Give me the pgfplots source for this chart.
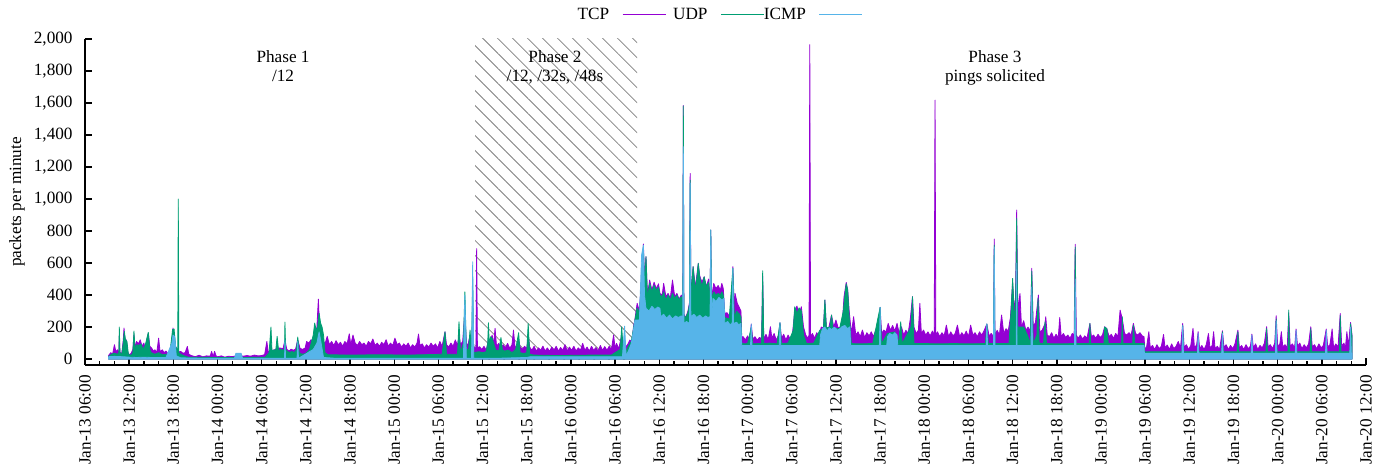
\documentclass[border=0pt]{standalone}
\usepackage{fontspec}
\setmainfont{Liberation Serif}
\usepackage{pgfplots}
\pgfplotsset{compat=1.18}
\usetikzlibrary{patterns.meta}
\definecolor{tcpc}{HTML}{9400D3}
\definecolor{udpc}{HTML}{009E73}
\definecolor{icmpc}{HTML}{56B4E9}
\begin{document}
\begin{tikzpicture}
\begin{axis}[
  scale only axis, width=640.5pt, height=163pt,
  xmin=6, xmax=180, ymin=-37, ymax=2000,
  axis x line=bottom, axis y line=left,
  axis line style={-, line width=0.7pt},
  tick align=inside,
  major tick length=3.5pt, minor tick length=2pt,
  every tick/.style={black, line width=0.7pt},
  xtick={6,12,...,180}, minor x tick num=2,
  ytick={0,200,...,2000},
  xticklabels={Jan-13 06:00, Jan-13 12:00, Jan-13 18:00, Jan-14 00:00, Jan-14 06:00, Jan-14 12:00, Jan-14 18:00, Jan-15 00:00, Jan-15 06:00, Jan-15 12:00, Jan-15 18:00, Jan-16 00:00, Jan-16 06:00, Jan-16 12:00, Jan-16 18:00, Jan-17 00:00, Jan-17 06:00, Jan-17 12:00, Jan-17 18:00, Jan-18 00:00, Jan-18 06:00, Jan-18 12:00, Jan-18 18:00, Jan-19 00:00, Jan-19 06:00, Jan-19 12:00, Jan-19 18:00, Jan-20 00:00, Jan-20 06:00, Jan-20 12:00},
  xticklabel style={rotate=90, anchor=east, inner sep=0pt, inner xsep=5pt},
  yticklabel style={inner sep=0pt, inner xsep=6pt},
  /pgf/number format/assume math mode=true,
  /pgf/number format/1000 sep={,},
  tick label style={font=\fontsize{8.6}{10}\selectfont},
  ylabel={packets per minute},
  every axis y label/.style={at={(axis description cs:-0.0531,0.5)}, rotate=90, anchor=center, font=\fontsize{8.6}{10}\selectfont},
  legend columns=3, legend plot pos=right,
  legend style={at={(axis description cs:0.492,1)}, anchor=center, yshift=12pt, draw=none, fill=none, inner sep=0pt, column sep=0pt, nodes={inner sep=0pt}, font=\fontsize{8.6}{10}\selectfont},
  legend image code/.code={\path (0pt,0pt); \draw[#1, line width=0.5pt] (6.5pt,0pt) -- (28pt,0pt);},
]
\fill[pattern={Lines[angle=-45,distance=5.3pt,line width=0.4pt]}, pattern color=gray] (axis cs:59,0) rectangle (axis cs:81,2000);

% TCP
\addplot[forget plot, draw=tcpc, fill=tcpc, line width=0.4pt, line join=round] coordinates {
(9.2,22)(9.5,40)(9.75,30)(10.0,90)(10.2,45)(10.4,58)(10.6,35)(10.66,150)(10.75,40)(11.0,37)(11.2,120)(11.3,194)(11.45,100)(11.6,121)(11.8,45)(12.0,27)(12.25,35)(12.5,60)(12.65,150)(12.8,70)(13.0,110)(13.25,95)(13.5,120)(13.75,80)(14.0,100)(14.2,60)(14.4,120)(14.6,162)(14.8,80)(15.05,69)(15.3,50)(15.5,58)(15.75,40)(16.0,131)(16.2,45)(16.5,58)(16.75,40)(17.0,50)(17.25,35)(17.5,48)(17.75,60)(17.95,194)(18.1,150)(18.3,80)(18.5,60)(18.6,45)(18.67,45)(18.75,45)(19.0,48)(19.3,37)(19.6,40)(19.9,79)(20.1,30)
(20.5,21)(21.0,15)(21.5,24)(22.0,14)(22.5,20)(23.0,18)(23.2,48)(23.4,15)(23.6,48)(23.8,20)(24.0,14)(24.5,20)(25.0,12)(25.5,18)(26.0,15)(26.5,20)(27.0,22)(27.5,18)(28.0,22)(28.5,18)(29.0,25)(29.5,20)(30.0,22)(30.4,28)(30.7,110)(30.9,40)(31.2,60)(31.5,55)(31.8,58)(32.1,70)(32.5,69)(32.9,65)(33.16,120)(33.4,62)(33.7,50)(34.0,62)(34.3,55)(34.6,62)(34.9,120)(35.2,69)(35.5,60)(35.9,69)
(36.1,110)(36.4,100)(36.7,121)(37.0,105)(37.2,140)(37.5,200)(37.7,375)(37.85,200)(38.0,150)(38.2,130)(38.4,110)(38.6,95)(38.9,142)(39.2,90)(39.5,110)(39.8,85)(40.1,115)(40.4,90)(40.7,105)(41.0,80)(41.3,110)(41.6,95)(41.9,158)(42.1,90)(42.4,150)(42.7,100)(43.0,85)(43.3,110)(43.6,90)(43.9,100)(44.2,80)(44.5,110)(44.8,95)(45.1,125)(45.4,85)(45.7,100)(46.0,80)(46.3,105)(46.6,90)(46.9,121)(47.2,80)(47.5,100)(47.8,85)(48.1,131)(48.4,90)(48.7,100)(49.0,75)(49.3,95)(49.6,80)(49.9,100)(50.2,70)(50.5,90)(50.8,75)(51.1,100)(51.3,156)(51.5,85)(51.8,95)(52.1,70)(52.4,90)(52.7,75)(53.0,100)(53.3,80)(53.6,95)(53.9,70)(54.2,110)(54.5,80)(54.9,171)(55.1,90)(55.4,75)(55.7,100)(56.0,80)(56.3,120)(56.6,85)(56.8,150)(57.0,90)(57.3,110)(57.6,300)(57.8,100)(58.0,85)(58.3,150)(58.5,90)(58.66,200)(58.8,80)(59.0,70)(59.1,70)(59.2,690)(59.3,70)
(59.6,77)(59.9,60)(60.2,80)(60.5,55)(60.8,120)(61.0,100)(61.3,150)(61.5,90)(61.7,192)(61.9,80)(62.2,98)(62.5,67)(62.8,90)(63.1,70)(63.4,98)(63.7,67)(64.0,90)(64.2,181)(64.4,80)(64.7,70)(64.9,120)(65.1,77)(65.4,60)(65.7,80)(66.0,65)(66.2,150)(66.4,75)(66.7,55)(67.0,80)(67.3,50)(67.6,70)(67.9,55)(68.2,81)(68.5,50)(68.8,70)(69.1,48)(69.4,75)(69.7,55)(70.0,80)(70.3,50)(70.6,72)(70.9,55)(71.2,90)(71.5,50)(71.8,75)(72.1,55)(72.4,80)(72.7,50)(73.0,70)(73.3,55)(73.6,98)(73.9,55)(74.2,75)(74.5,50)(74.8,80)(75.1,55)(75.4,72)(75.7,50)(76.0,85)(76.3,55)(76.6,78)(76.9,55)(77.2,80)(77.5,60)(77.8,150)(78.0,70)(78.2,98)(78.5,65)(78.9,150)(79.1,70)(79.3,120)(79.5,75)(79.8,98)(80.0,119)(80.3,110)(80.5,202)(80.7,250)(81.0,348)(81.3,300)
(81.6,500)(81.85,719)(82.0,500)(82.2,640)(82.4,400)(82.7,494)(83.0,431)(83.3,480)(83.6,440)(83.9,470)(84.1,410)(84.4,400)(84.6,473)(84.9,390)(85.2,410)(85.5,380)(85.8,494)(86.1,390)(86.4,410)(86.7,375)(87.0,400)(87.2,300)(87.27,1585)(87.35,280)(87.6,260)(87.9,300)(88.1,350)(88.2,1160)(88.3,400)(88.6,577)(88.9,450)(89.1,520)(89.3,598)(89.5,520)(89.8,480)(90.1,514)(90.4,452)(90.7,500)(90.9,350)(91.0,806)(91.1,380)(91.4,473)(91.7,440)(92.0,460)(92.3,431)(92.5,473)(92.7,440)(92.9,285)(93.2,290)(93.5,270)(93.8,300)(94.0,577)(94.2,300)(94.3,410)(94.6,348)(94.9,320)(95.1,300)(95.2,140)
(95.4,140)(95.7,120)(96.0,145)(96.3,115)(96.5,219)(96.7,125)(97.0,140)(97.3,118)(97.6,135)(97.9,129)(98.05,520)(98.2,125)(98.5,155)(98.8,120)(99.1,202)(99.3,130)(99.6,160)(99.9,119)(100.2,150)(100.4,227)(100.6,130)(100.9,155)(101.2,120)(101.5,150)(101.8,125)(102.1,160)(102.4,300)(102.7,331)(103.0,280)(103.3,327)(103.6,200)(103.9,150)(104.2,130)(104.35,150)(104.45,1965)(104.55,140)(104.8,160)(105.1,130)(105.4,165)(105.7,140)(106.0,200)(106.3,195)(106.5,369)(106.7,200)(107.0,190)(107.4,275)(107.7,200)(108.0,244)(108.3,195)(108.6,200)(108.9,250)(109.1,390)(109.4,479)(109.6,431)(109.8,300)(110.1,160)(110.4,265)(110.7,150)(111.0,170)(111.3,140)(111.6,181)(111.9,135)(112.2,165)(112.5,145)(112.8,170)(113.1,140)(113.4,181)(113.7,150)(114.0,323)(114.2,160)(114.5,181)(114.8,170)(115.1,223)(115.4,180)(115.7,210)(116.0,175)(116.3,223)(116.6,160)(116.9,202)(117.2,150)(117.5,180)(117.8,160)(118.1,250)(118.4,390)(118.6,200)(118.9,160)(119.2,180)(119.4,348)(119.6,160)(119.9,181)(120.2,150)(120.5,170)(120.8,145)(121.1,175)(121.35,150)(121.46,1618)(121.57,150)(121.8,170)(122.1,140)(122.4,165)(122.7,145)(123.0,212)(123.3,140)(123.6,170)(123.9,145)(124.2,160)(124.5,212)(124.8,140)(125.1,165)(125.4,145)(125.7,175)(126.0,140)(126.3,212)(126.6,150)(126.9,165)(127.2,140)(127.5,170)(127.8,150)(128.1,175)(128.5,219)(128.8,145)(129.1,160)(129.4,140)(129.5,750)(129.6,150)(129.9,180)(130.2,150)(130.5,275)(130.8,160)(131.1,190)(131.4,175)(131.7,260)(132.0,480)(132.2,306)(132.4,390)(132.55,931)(132.7,300)(133.0,410)(133.2,200)(133.5,240)(133.8,180)(134.1,200)(134.4,170)(134.6,567)(134.8,200)(135.1,230)(135.5,400)(135.7,170)(136.0,180)(136.4,220)(136.5,265)(136.7,150)(137.0,140)(137.3,165)(137.6,130)(137.9,155)(138.2,135)(138.4,260)(138.6,140)(138.9,160)(139.2,135)(139.5,150)(139.8,130)(140.1,160)(140.35,150)(140.5,717)(140.65,150)(140.9,130)(141.2,150)(141.5,125)(141.8,145)(142.1,130)(142.5,223)(142.7,140)(143.0,150)(143.3,130)(143.6,155)(143.9,135)(144.2,150)(144.5,202)(144.8,190)(145.1,140)(145.4,155)(145.7,130)(146.0,160)(146.3,140)(146.6,306)(146.9,250)(147.2,160)(147.5,150)(147.8,165)(148.1,150)(148.4,223)(148.7,160)(149.0,150)(149.3,165)(149.6,145)(149.85,140)(149.95,60)
(150.2,77)(150.5,171)(150.7,70)(151.0,85)(151.3,60)(151.6,90)(151.9,65)(152.2,80)(152.5,154)(152.7,70)(153.0,88)(153.3,60)(153.6,95)(153.9,65)(154.2,80)(154.5,110)(154.8,70)(155.1,223)(155.3,75)(155.6,90)(155.9,60)(156.2,85)(156.5,192)(156.7,70)(157.0,90)(157.2,171)(157.4,65)(157.7,85)(158.0,60)(158.3,90)(158.6,160)(158.8,70)(159.1,85)(159.3,171)(159.5,65)(159.8,80)(160.1,60)(160.5,177)(160.7,75)(161.0,90)(161.3,60)(161.6,85)(161.9,65)(162.2,95)(162.6,181)(162.8,70)(163.1,85)(163.4,60)(163.7,90)(164.0,65)(164.3,80)(164.5,156)(164.7,70)(165.0,95)(165.3,60)(165.6,85)(165.9,70)(166.2,100)(166.5,202)(166.7,75)(167.0,90)(167.3,65)(167.6,100)(167.8,271)(168.0,80)(168.3,95)(168.5,171)(168.7,75)(169.0,90)(169.3,70)(169.5,290)(169.7,80)(170.0,95)(170.3,70)(170.5,188)(170.7,80)(171.0,100)(171.3,65)(171.6,90)(171.9,70)(172.2,95)(172.5,202)(172.7,75)(173.0,90)(173.3,65)(173.6,95)(173.9,70)(174.2,85)(174.6,188)(174.8,75)(175.1,90)(175.4,188)(175.6,70)(175.9,95)(176.2,75)(176.5,285)(176.7,80)(177.0,100)(177.2,70)(177.4,171)(177.6,80)(177.9,229)(178.1,150)
} \closedcycle;

% UDP
\addplot[forget plot, draw=udpc, fill=udpc, line width=0.4pt, line join=round] coordinates {
(9.2,15)(9.6,30)(10.0,37)(10.4,30)(10.6,40)(10.66,200)(10.75,40)(11.0,30)(11.2,100)(11.34,173)(11.5,121)(11.7,110)(11.9,27)(12.3,25)(12.5,40)(12.65,175)(12.8,60)(13.0,90)(13.3,85)(13.6,95)(13.9,60)(14.2,90)(14.6,167)(14.8,60)(15.0,40)(15.5,30)(16.0,40)(16.5,27)(17.0,30)(17.5,27)(17.9,185)(18.1,188)(18.3,80)(18.5,60)(18.6,40)(18.67,1000)(18.74,40)(19.0,30)(19.5,20)(20.0,12)(24.0,10)(28.0,10)(30.5,12)(31.0,40)(31.26,200)(31.4,50)(31.7,58)(31.9,50)(32.1,142)(32.3,50)(32.6,62)(32.9,55)(33.1,60)(33.16,231)(33.25,60)(33.5,48)(33.8,40)(34.1,48)(34.4,40)(34.7,55)(34.9,138)(35.1,40)(35.5,30)(36.0,35)(36.5,60)(37.0,150)(37.2,225)(37.4,180)(37.6,200)(37.8,287)(38.0,225)(38.2,200)(38.4,150)(38.6,40)(39.0,27)(42.0,25)(46.0,27)(50.0,25)(54.5,30)(54.9,171)(55.1,30)(56.6,30)(56.8,233)(57.0,40)(57.4,100)(57.6,420)(57.8,60)(58.1,60)(58.3,181)(58.5,50)(58.66,500)(58.8,40)(59.5,46)(60.0,40)(60.5,46)(60.7,100)(60.8,227)(60.9,100)(61.1,140)(61.3,130)(61.5,100)(61.8,56)(62.2,50)(62.5,135)(62.7,56)(63.0,50)(63.5,56)(64.0,40)(64.5,60)(64.9,165)(65.1,40)(65.6,35)(66.0,40)(66.2,223)(66.4,30)(67.0,25)(70.0,22)(75.0,25)(77.5,25)(78.0,40)(78.7,60)(78.9,202)(79.1,60)(79.5,50)(79.8,80)(80.2,110)(80.5,190)(80.7,244)(81.0,320)(81.3,290)
(81.6,480)(81.85,700)(82.0,450)(82.2,640)(82.4,380)(82.7,473)(83.0,420)(83.3,460)(83.6,430)(83.9,450)(84.1,400)(84.4,390)(84.6,420)(84.9,369)(85.2,400)(85.5,370)(85.8,410)(86.1,380)(86.4,400)(86.7,369)(87.0,390)(87.2,280)(87.27,1581)(87.35,270)(87.6,260)(87.9,290)(88.1,340)(88.2,1118)(88.3,390)(88.6,577)(88.9,431)(89.1,500)(89.3,598)(89.5,510)(89.8,452)(90.1,514)(90.4,452)(90.7,480)(90.9,340)(91.0,806)(91.1,380)(91.4,420)(91.7,400)(92.0,410)(92.3,400)(92.5,420)(92.7,400)(92.9,260)(93.5,250)(94.0,567)(94.2,260)(94.5,300)(94.9,280)(95.1,260)(95.2,100)
(95.5,95)(96.0,97)(96.5,200)(96.7,95)(97.5,97)(97.9,95)(98.05,552)(98.2,97)(99.0,100)(100.0,95)(100.4,227)(100.6,97)(101.5,100)(102.2,180)(102.4,327)(102.7,285)(103.0,320)(103.3,300)(103.6,150)(104.0,97)(105.0,100)(105.8,180)(106.3,190)(106.5,369)(106.7,195)(107.2,200)(107.4,275)(107.6,195)(108.5,190)(109.0,300)(109.2,390)(109.4,470)(109.6,431)(109.8,260)(110.1,97)(111.0,95)(113.0,97)(114.0,323)(114.2,97)(115.0,160)(116.0,170)(116.5,97)(116.8,233)(117.0,97)(118.2,200)(118.4,390)(118.6,97)(120.0,97)(122.0,95)(124.0,97)(126.0,95)(128.3,97)(128.5,219)(128.7,97)(129.4,97)(129.5,712)(129.6,97)(131.5,97)(131.8,300)(132.0,504)(132.2,300)(132.4,300)(132.55,879)(132.7,200)(133.0,200)(133.5,200)(134.0,150)(134.4,97)(134.6,550)(134.8,97)(135.3,150)(135.45,380)(135.6,100)(136.2,97)(136.4,233)(136.6,97)(138.0,95)(140.4,97)(140.5,700)(140.6,97)(142.4,97)(142.5,223)(142.6,97)(144.4,97)(144.5,200)(144.8,190)(145.0,97)(146.8,97)(146.9,265)(147.0,97)(148.3,97)(148.4,210)(148.6,97)(149.85,97)(149.95,45)
(150.5,46)(155.0,46)(155.1,210)(155.2,46)(160.0,47)(160.4,46)(160.5,170)(160.6,46)(162.5,46)(162.6,170)(162.7,46)(166.4,46)(166.5,190)(166.6,46)(167.7,46)(167.8,250)(167.9,46)(169.4,46)(169.5,306)(169.6,46)(172.4,46)(172.5,190)(172.6,46)(176.4,46)(176.5,270)(176.6,46)(177.8,46)(177.9,220)(178.1,140)
} \closedcycle;

% ICMP
\addplot[forget plot, draw=icmpc, fill=icmpc, line width=0.4pt, line join=round] coordinates {
(9.2,15)(10.0,17)(11.0,15)(12.0,12)(13.0,10)(14.0,12)(15.0,10)(16.0,10)(17.0,10)(17.8,100)(17.95,150)(18.2,140)(18.4,20)(19.0,8)(22.0,5)(26.3,5)(26.5,37)(27.2,37)(27.4,5)(31.0,5)(33.1,5)(33.16,120)(33.25,5)(34.8,5)(34.9,110)(35.0,5)(37.0,60)(37.5,100)(37.8,170)(38.0,120)(38.4,10)(40.0,5)(57.4,5)(57.6,400)(57.8,5)(58.5,5)(58.66,608)(58.8,5)(62.0,5)(66.0,10)(66.5,15)(79.0,15)(79.3,206)(79.5,20)(79.9,60)(80.2,98)(80.5,181)(80.7,244)(81.0,244)(81.3,244)(81.6,650)(81.85,712)(82.0,400)
(82.2,317)(82.6,300)(83.0,330)(83.4,310)(83.8,325)(84.1,317)(84.2,265)(84.6,280)(85.0,255)(85.4,275)(85.8,250)(86.2,270)(86.6,260)(87.0,270)(87.2,265)(87.25,900)(87.27,1327)(87.3,1000)(87.35,223)(87.7,235)(88.1,223)(88.15,400)(88.2,1100)(88.25,500)(88.3,265)(88.7,280)(89.1,260)(89.5,275)(89.9,255)(90.3,270)(90.6,260)(90.9,265)(91.0,806)(91.1,265)(91.3,379)(91.7,360)(92.1,385)(92.5,370)(92.8,379)(92.9,223)(93.3,235)(93.6,215)(93.9,223)(94.0,567)(94.1,223)(94.5,230)(94.8,215)(95.1,223)(95.2,85)
(96.4,85)(96.5,219)(96.6,85)(100.3,85)(100.4,227)(100.5,85)(105.8,85)(105.9,150)(106.2,192)(106.5,200)(106.8,175)(107.1,195)(107.4,185)(107.8,200)(108.2,180)(108.6,192)(108.8,202)(109.2,210)(109.6,190)(109.9,202)(110.0,85)(113.9,85)(114.0,323)(114.1,85)(114.9,85)(115.0,140)(115.3,160)(115.7,150)(116.0,165)(116.3,150)(116.4,85)(128.4,85)(128.5,219)(128.6,85)(129.4,85)(129.5,700)(129.6,85)(132.5,85)(132.55,600)(132.6,85)(134.5,85)(134.6,450)(134.7,85)(140.4,85)(140.5,500)(140.6,85)(149.85,85)(149.9,37)
(155.0,37)(155.1,210)(155.2,37)(157.1,37)(157.2,160)(157.3,37)(160.4,37)(160.5,160)(160.6,37)(164.4,37)(164.5,150)(164.6,37)(167.7,37)(167.8,240)(167.9,37)(170.4,37)(170.5,180)(170.6,37)(174.5,37)(174.6,180)(174.7,37)(177.8,37)(177.9,200)(178.0,37)(178.1,37)
} \closedcycle;

\addlegendimage{tcpc}\addlegendentry{\makebox[20.75pt][r]{TCP}}
\addlegendimage{udpc}\addlegendentry{\makebox[20.75pt][r]{UDP}}
\addlegendimage{icmpc}\addlegendentry{\makebox[20.75pt][r]{ICMP}}

\node[align=center, anchor=north, inner sep=0pt, font=\fontsize{8.6}{9.75}\selectfont] at (axis cs:32.9,1931) {Phase 1\\/12};
\node[align=center, anchor=north, inner sep=0pt, font=\fontsize{8.6}{9.75}\selectfont] at (axis cs:69.84,1931) {Phase 2\\/12, /32s, /48s};
\node[align=center, anchor=north, inner sep=0pt, font=\fontsize{8.6}{9.75}\selectfont] at (axis cs:129.6,1931) {Phase 3\\pings solicited};
\end{axis}
\pgfresetboundingbox
\path[use as bounding box] (-42.5pt,-52.5pt) rectangle (651pt,182.5pt);
\end{tikzpicture}
\end{document}
